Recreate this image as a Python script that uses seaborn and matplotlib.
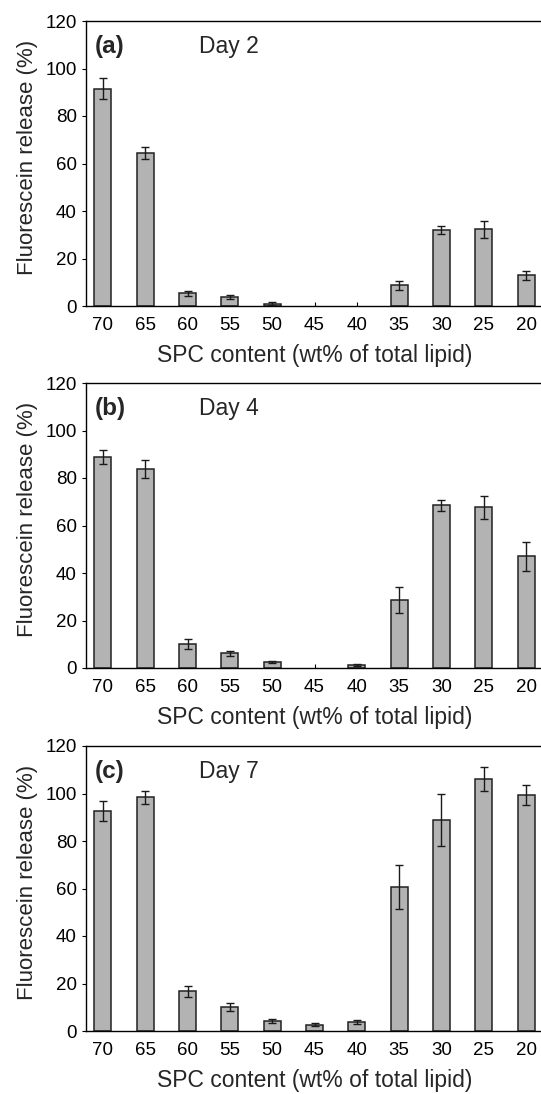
import numpy as np
import pandas as pd
import matplotlib
matplotlib.use("Agg")
import matplotlib.pyplot as plt
import seaborn as sns

# SPC content (wt% of total lipid), in plotting order
spc_labels = ["70", "65", "60", "55", "50", "45", "40", "35", "30", "25", "20"]

# Fluorescein release (%) and standard deviations for each storage day
day2_release = [91.5, 64.3, 5.3, 3.8, 1.0, 0.0, 0.0, 8.7, 31.9, 32.3, 12.9]
day2_sd = [4.3, 2.6, 1.1, 0.7, 0.5, 0.0, 0.0, 2.0, 1.6, 3.5, 2.0]

day4_release = [89.0, 83.9, 10.0, 6.2, 2.4, 0.0, 1.3, 28.5, 68.5, 67.6, 47.0]
day4_sd = [3.0, 3.7, 2.2, 1.0, 0.5, 0.0, 0.3, 5.4, 2.3, 4.7, 6.2]

day7_release = [92.5, 98.4, 16.7, 10.1, 4.2, 2.7, 3.8, 60.5, 88.8, 106.1, 99.4]
day7_sd = [4.2, 2.8, 2.4, 1.8, 0.7, 0.5, 1.0, 9.2, 10.8, 5.2, 4.3]

panel_tags = ["(a)", "(b)", "(c)"]
panel_days = ["Day 2", "Day 4", "Day 7"]
y_ticks = [0, 20, 40, 60, 80, 100, 120]

sns.set_style("ticks")
plt.rcParams["font.family"] = ["Liberation Sans", "DejaVu Sans"]

fig = plt.figure(figsize=(5.41, 10.94), dpi=100)

left = 86.0 / 541
width = 457.0 / 541
height = 285.0 / 1094
bottoms = [1 - 306.0 / 1094, 1 - 668.0 / 1094, 1 - 1031.0 / 1094]

series = [(day2_release, day2_sd), (day4_release, day4_sd), (day7_release, day7_sd)]

for (vals, sds), tag, day, bottom in zip(series, panel_tags, panel_days, bottoms):
    ax = fig.add_axes([left, bottom, width, height])
    df = pd.DataFrame({"spc": spc_labels, "release": vals, "sd": sds})
    sns.barplot(data=df, x="spc", y="release", order=spc_labels, ax=ax,
                color="#b3b3b3", saturation=1, width=0.4,
                edgecolor="#222222", linewidth=1.1, errorbar=None)

    # no outline for groups with no measurable release
    for patch in ax.patches:
        if patch.get_height() == 0:
            patch.set_visible(False)

    # error bars only where a deviation was measured
    pos = np.arange(len(spc_labels))
    mask = df["sd"].to_numpy() > 0
    ax.errorbar(pos[mask], df["release"].to_numpy()[mask], yerr=df["sd"].to_numpy()[mask],
                fmt="none", ecolor="#1a1a1a", elinewidth=1.0, capsize=3.2, capthick=1.0,
                zorder=5)

    ax.set_xlim(-0.4, len(spc_labels) - 0.6)
    ax.set_ylim(0, 120)
    ax.set_yticks(y_ticks)

    for side in ["top", "left", "bottom"]:
        ax.spines[side].set_visible(True)
        ax.spines[side].set_linewidth(1.0)
        ax.spines[side].set_color("black")
    ax.spines["right"].set_visible(False)

    ax.tick_params(axis="x", direction="in", length=3, width=0.8, pad=8,
                   labelsize=13.5, colors="black")
    ax.tick_params(axis="y", direction="out", length=3, width=0.8, pad=3.5,
                   labelsize=13.5, colors="black")

    ax.set_xlabel("SPC content (wt% of total lipid)", fontsize=16.5, labelpad=7)
    ax.set_ylabel("Fluorescein release (%)", fontsize=16)
    ax.yaxis.set_label_coords(-0.105, 0.52)

    ax.text(0.02, 0.912, tag, transform=ax.transAxes, fontsize=17.5,
            fontweight="bold", va="center", ha="left")
    ax.text(0.248, 0.912, day, transform=ax.transAxes, fontsize=16.5,
            va="center", ha="left")

fig.savefig("out.png", dpi=100)
